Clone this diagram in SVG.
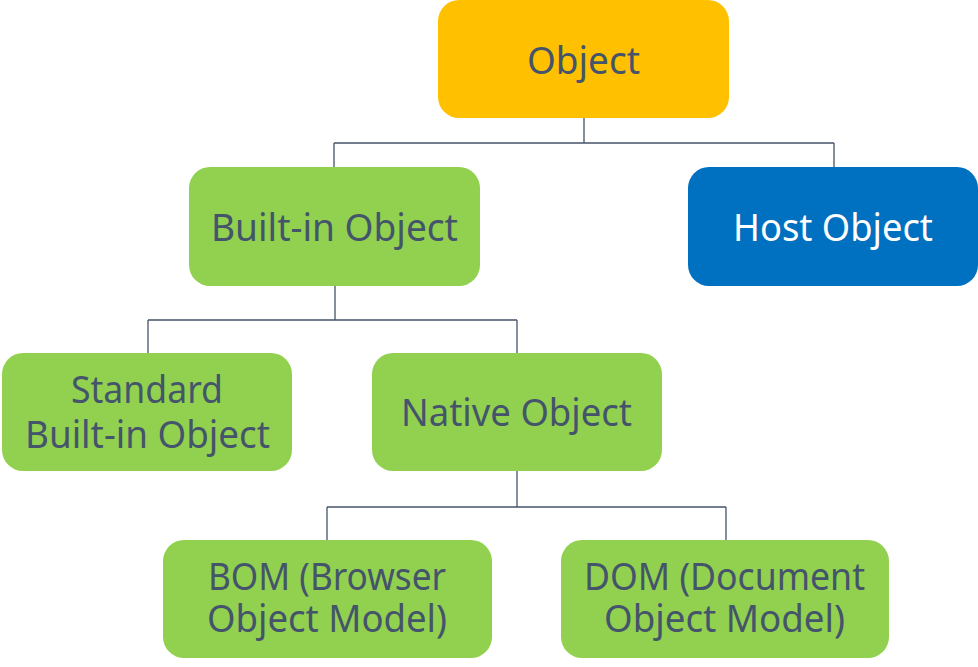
<svg xmlns="http://www.w3.org/2000/svg" width="978" height="667" viewBox="0 0 978 667">
<style>
.box{stroke:none}
.g{fill:#92D050}
.t{font-family:"Noto Sans","Liberation Sans",sans-serif;font-size:38px;fill:#44546A}
.w{fill:#FFFFFF}
.c{fill:none;stroke:#44546A;stroke-width:1.3}
</style>
<rect width="978" height="667" fill="#FFFFFF"/>
<g id="connectors">
<path class="c" d="M584 118V143M334 143H834M334 143V167M834 143V167"/>
<path class="c" d="M335 286V320M148 320H517M148 320V353M517 320V353"/>
<path class="c" d="M517 471V507M327 507H726M327 507V540M726 507V540"/>
</g>
<g id="object">
<rect class="box" x="438" y="0" width="291" height="118" rx="21" fill="#FFC000"/>
<text class="t" x="527" y="74" textLength="113" lengthAdjust="spacingAndGlyphs">Object</text>
</g>
<g id="builtin">
<rect class="box g" x="189" y="167" width="291" height="119" rx="21"/>
<text class="t" x="211" y="241" textLength="247" lengthAdjust="spacingAndGlyphs">Built-in Object</text>
</g>
<g id="host">
<rect class="box" x="688" y="167" width="290" height="119" rx="21" fill="#0070C0"/>
<text class="t w" x="733" y="241" textLength="200" lengthAdjust="spacingAndGlyphs">Host Object</text>
</g>
<g id="standard">
<rect class="box g" x="2" y="353" width="290" height="118" rx="21"/>
<text class="t" x="71" y="403" textLength="152" lengthAdjust="spacingAndGlyphs">Standard</text>
<text class="t" x="25" y="448" textLength="245" lengthAdjust="spacingAndGlyphs">Built-in Object</text>
</g>
<g id="native">
<rect class="box g" x="372" y="353" width="290" height="118" rx="21"/>
<text class="t" x="401" y="426" textLength="231" lengthAdjust="spacingAndGlyphs">Native Object</text>
</g>
<g id="bom">
<rect class="box g" x="163" y="540" width="329" height="118" rx="21"/>
<text class="t" x="208" y="590" textLength="238" lengthAdjust="spacingAndGlyphs">BOM (Browser</text>
<text class="t" x="207" y="632" textLength="240" lengthAdjust="spacingAndGlyphs">Object Model)</text>
</g>
<g id="dom">
<rect class="box g" x="561" y="540" width="328" height="118" rx="21"/>
<text class="t" x="584" y="590" textLength="281" lengthAdjust="spacingAndGlyphs">DOM (Document</text>
<text class="t" x="604" y="632" textLength="241" lengthAdjust="spacingAndGlyphs">Object Model)</text>
</g>
</svg>
